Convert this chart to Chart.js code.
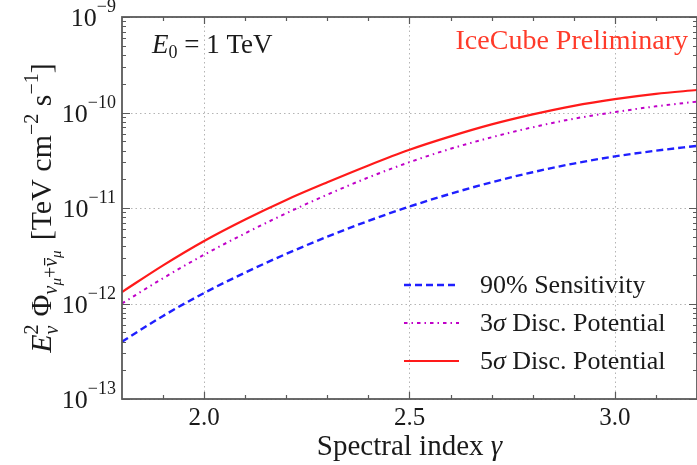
<!DOCTYPE html>
<html>
<head>
<meta charset="utf-8">
<script src="https://cdn.jsdelivr.net/npm/chart.js@4.4.0/dist/chart.umd.min.js"></script>
<style>
  html, body { margin: 0; padding: 0; background: #fff; }
  canvas { display: block; }
</style>
</head>
<body>
<canvas id="sens" width="697" height="465"></canvas>
<script>
// spectral index grid and flux curves (TeV cm^-2 s^-1)
const gammaValues = [1.8, 1.9, 2.0, 2.1, 2.2, 2.3, 2.4, 2.5, 2.6, 2.7, 2.8, 2.9, 3.0, 3.1, 3.2];
const sens90 = [3.98e-13, 7.41e-13, 1.29e-12, 2.11e-12, 3.31e-12, 5.01e-12, 7.33e-12, 1.035e-11,
                1.41e-11, 1.86e-11, 2.37e-11, 2.92e-11, 3.47e-11, 3.98e-11, 4.47e-11];
const disc3 = [1.00e-12, 1.84e-12, 3.24e-12, 5.43e-12, 8.81e-12, 1.38e-11, 2.09e-11, 3.02e-11,
               4.17e-11, 5.50e-11, 7.00e-11, 8.61e-11, 1.01e-10, 1.16e-10, 1.30e-10];
const disc5 = [1.32e-12, 2.51e-12, 4.52e-12, 7.59e-12, 1.216e-11, 1.86e-11, 2.79e-11, 4.07e-11,
               5.62e-11, 7.50e-11, 9.55e-11, 1.175e-10, 1.38e-10, 1.567e-10, 1.72e-10];

// axis ticks
const xMajorTicks = [2.0, 2.5, 3.0];
const xMajorLabels = ['2.0', '2.5', '3.0'];
const xMinorTicks = [1.9, 2.1, 2.2, 2.3, 2.4, 2.6, 2.7, 2.8, 2.9, 3.1];
const yDecades = [-13, -12, -11, -10, -9];

const SERIF = '"Liberation Serif", "DejaVu Serif", serif';
const SPINE = '#5a5a5a';

function font(size, italic) {
    return (italic ? 'italic ' : '') + size + 'px ' + SERIF;
}

// draws a run of text pieces (sub/superscripts via dy), returns total width
function drawRich(ctx, parts, x, y, doDraw) {
    let cx = x, lastStart = x;
    for (const p of parts) {
        if (p.gap) { cx += p.gap; continue; }
        ctx.font = font(p.size, p.it);
        const w = ctx.measureText(p.t).width;
        const sx = p.stack ? lastStart : cx;
        const by = y + (p.dy || 0);
        if (doDraw) {
            ctx.fillText(p.t, sx, by);
            if (p.bar) {
                ctx.save();
                ctx.lineWidth = 1.2;
                ctx.strokeStyle = ctx.fillStyle;
                ctx.beginPath();
                ctx.moveTo(sx + 1.5, by - p.size * 0.62);
                ctx.lineTo(sx + w, by - p.size * 0.62);
                ctx.stroke();
                ctx.restore();
            }
        }
        if (p.stack) {
            cx = Math.max(cx, sx + w);
        } else {
            lastStart = sx;
            cx = sx + w;
        }
    }
    return cx - x;
}

function toPoints(vals) {
    return gammaValues.map((g, i) => ({x: g, y: vals[i]}));
}

const frame_plugin = {
    id: 'frame_and_labels',
    beforeDatasetsDraw: (chart) => {
        const ctx = chart.ctx;
        const a = chart.chartArea;
        const xs = chart.scales.x, ys = chart.scales.y;
        ctx.save();
        ctx.strokeStyle = '#b4b4b4';
        ctx.lineWidth = 1;
        ctx.setLineDash([1.5, 3]);
        for (const v of xMajorTicks) {
            const px = Math.round(xs.getPixelForValue(v)) + 0.5;
            ctx.beginPath(); ctx.moveTo(px, a.top); ctx.lineTo(px, a.bottom); ctx.stroke();
        }
        for (const d of yDecades) {
            const py = Math.round(ys.getPixelForValue(Math.pow(10, d))) + 0.5;
            ctx.beginPath(); ctx.moveTo(a.left, py); ctx.lineTo(a.right, py); ctx.stroke();
        }
        ctx.restore();
    },
    afterDatasetsDraw: (chart) => {
        const ctx = chart.ctx;
        const a = chart.chartArea;
        const xs = chart.scales.x, ys = chart.scales.y;
        ctx.save();

        // inward ticks on all four sides
        ctx.strokeStyle = SPINE;
        ctx.lineWidth = 1.2;
        const tickX = (v, len) => {
            const px = Math.round(xs.getPixelForValue(v)) + 0.5;
            ctx.beginPath();
            ctx.moveTo(px, a.bottom); ctx.lineTo(px, a.bottom - len);
            ctx.moveTo(px, a.top); ctx.lineTo(px, a.top + len);
            ctx.stroke();
        };
        const tickY = (v, len) => {
            const py = Math.round(ys.getPixelForValue(v)) + 0.5;
            ctx.beginPath();
            ctx.moveTo(a.left, py); ctx.lineTo(a.left + len, py);
            ctx.moveTo(a.right, py); ctx.lineTo(a.right - len, py);
            ctx.stroke();
        };
        xMajorTicks.forEach(v => tickX(v, 7));
        xMinorTicks.forEach(v => tickX(v, 4));
        yDecades.forEach(d => tickY(Math.pow(10, d), 8));
        for (let d = -13; d < -9; d++) {
            for (let k = 2; k <= 9; k++) tickY(k * Math.pow(10, d), 4);
        }

        // spines
        ctx.lineWidth = 1.8;
        ctx.strokeRect(a.left, a.top, a.right - a.left, a.bottom - a.top);

        ctx.fillStyle = '#1a1a1a';
        ctx.textBaseline = 'alphabetic';

        // x tick labels
        ctx.font = font(25);
        ctx.textAlign = 'center';
        xMajorTicks.forEach((v, i) => {
            ctx.fillText(xMajorLabels[i], xs.getPixelForValue(v), a.bottom + 26);
        });

        // y tick labels 10^n
        ctx.textAlign = 'left';
        for (const d of yDecades) {
            const py = ys.getPixelForValue(Math.pow(10, d));
            const exp = '\u2212' + Math.abs(d);
            ctx.font = font(18);
            const ew = ctx.measureText(exp).width;
            ctx.font = font(26);
            const tw = ctx.measureText('10').width;
            const right = a.left - 6;
            ctx.fillText('10', right - ew - tw, py + 9);
            ctx.font = font(18);
            ctx.fillText(exp, right - ew, py - 5);
        }

        // x axis title
        const xTitle = [
            {t: 'Spectral index ', size: 29},
            {t: '\u03b3', size: 29, it: true}
        ];
        const xtw = drawRich(ctx, xTitle, 0, 0, false);
        drawRich(ctx, xTitle, (a.left + a.right) / 2 - xtw / 2, 455, true);

        // y axis title, rotated
        const yTitle = [
            {t: 'E', size: 30, it: true},
            {t: '2', size: 20, dy: -13},
            {t: '\u03bd', size: 20, it: true, dy: 7, stack: true},
            {gap: 8},
            {t: '\u03a6', size: 30},
            {t: '\u03bd', size: 20, it: true, dy: 6},
            {t: '\u03bc', size: 15, it: true, dy: 10},
            {t: '+', size: 20, dy: 6},
            {t: '\u03bd', size: 20, it: true, dy: 6, bar: true},
            {t: '\u03bc', size: 15, it: true, dy: 10},
            {gap: 10},
            {t: '[TeV cm', size: 30},
            {t: '\u22122', size: 20, dy: -13},
            {t: ' s', size: 30},
            {t: '\u22121', size: 20, dy: -13},
            {t: ']', size: 30}
        ];
        const ytw = drawRich(ctx, yTitle, 0, 0, false);
        ctx.save();
        ctx.translate(51, (a.top + a.bottom) / 2);
        ctx.rotate(-Math.PI / 2);
        drawRich(ctx, yTitle, -ytw / 2, 0, true);
        ctx.restore();

        // energy annotation
        drawRich(ctx, [
            {t: 'E', size: 27, it: true},
            {t: '0', size: 18, dy: 5},
            {t: ' = 1 TeV', size: 27}
        ], 152, 53, true);

        // collaboration label
        ctx.fillStyle = '#ff3b2a';
        ctx.font = font(28);
        ctx.textAlign = 'right';
        ctx.fillText('IceCube Preliminary', 688, 49);

        // legend
        const rows = [
            {label: [{t: '90% Sensitivity', size: 26}], color: '#1f1fff', dash: [7, 4], width: 2.4},
            {label: [{t: '3', size: 26}, {t: '\u03c3', size: 26, it: true}, {t: ' Disc. Potential', size: 26}],
             color: '#c000c8', dash: [3.5, 4, 1.5, 4], width: 2},
            {label: [{t: '5', size: 26}, {t: '\u03c3', size: 26, it: true}, {t: ' Disc. Potential', size: 26}],
             color: '#ff1a1a', dash: [], width: 2.2}
        ];
        ctx.textAlign = 'left';
        rows.forEach((r, i) => {
            const ry = 285 + i * 38;
            ctx.strokeStyle = r.color;
            ctx.lineWidth = r.width;
            ctx.setLineDash(r.dash);
            ctx.beginPath(); ctx.moveTo(404, ry); ctx.lineTo(459, ry); ctx.stroke();
            ctx.setLineDash([]);
            ctx.fillStyle = '#1a1a1a';
            drawRich(ctx, r.label, 480, ry + 8, true);
        });

        ctx.restore();
    }
};

const chart_custom_background = {
    id: 'custom_canvas_background_color',
    beforeDraw: (chart) => {
        const ctx = chart.canvas.getContext('2d');
        ctx.save();
        ctx.globalCompositeOperation = 'destination-over';
        ctx.fillStyle = 'white';
        ctx.fillRect(0, 0, chart.width, chart.height);
        ctx.restore();
    }
};

new Chart(document.getElementById('sens'), {
    type: 'line',
    data: {
        datasets: [
            {
                label: '90% Sensitivity',
                data: toPoints(sens90),
                borderColor: '#1f1fff',
                borderWidth: 2.4,
                borderDash: [7, 4],
                pointRadius: 0,
                cubicInterpolationMode: 'monotone'
            },
            {
                label: '3\u03c3 Disc. Potential',
                data: toPoints(disc3),
                borderColor: '#c000c8',
                borderWidth: 2,
                borderDash: [3.5, 4, 1.5, 4],
                pointRadius: 0,
                cubicInterpolationMode: 'monotone'
            },
            {
                label: '5\u03c3 Disc. Potential',
                data: toPoints(disc5),
                borderColor: '#ff1a1a',
                borderWidth: 2.2,
                pointRadius: 0,
                cubicInterpolationMode: 'monotone'
            }
        ]
    },
    options: {
        responsive: false,
        animation: false,
        devicePixelRatio: 1,
        layout: {padding: {left: 122, top: 17, right: 0, bottom: 66}},
        plugins: {legend: {display: false}, tooltip: {enabled: false}},
        scales: {
            x: {type: 'linear', min: 1.8, max: 3.2, display: false},
            y: {type: 'logarithmic', min: 1e-13, max: 1e-9, display: false}
        }
    },
    plugins: [chart_custom_background, frame_plugin]
});
</script>
</body>
</html>
